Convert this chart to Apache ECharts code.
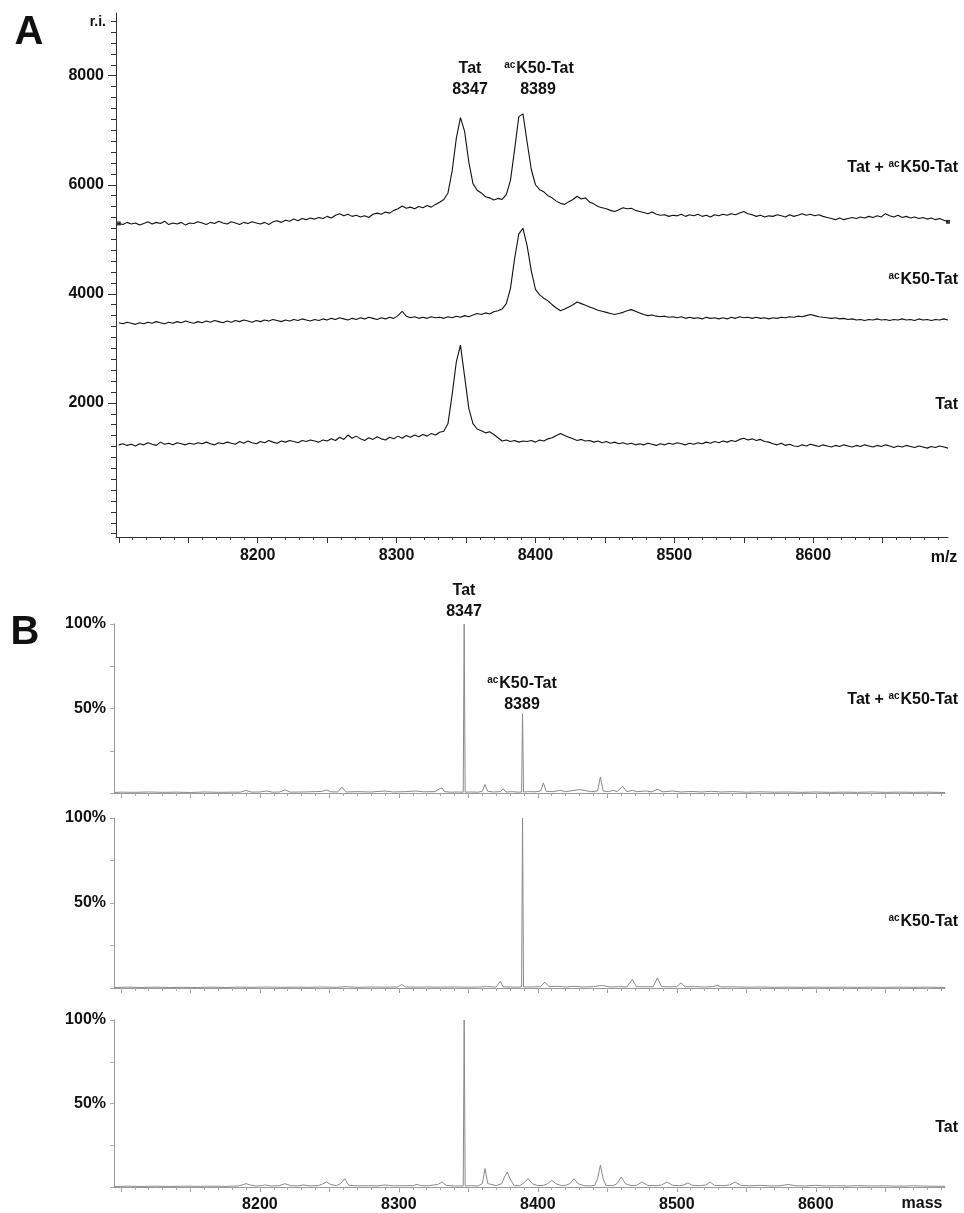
<!DOCTYPE html>
<html><head><meta charset="utf-8">
<script src="https://cdn.jsdelivr.net/npm/echarts/dist/echarts.min.js"></script>
<style>html,body{margin:0;padding:0;background:#fff}#c{width:964px;height:1213px}</style>
</head><body><div id="c"></div>
<script>
// ---------- DATA ----------
// Panel A: MALDI spectra sampled every MZ_STEP from MZ_START (relative intensity, r.i.)
const MZ_START = 8100, MZ_STEP = 3;
const A_MIX = [5290,5270,5310,5280,5300,5260,5290,5320,5280,5310,5290,5330,5270,5300,5280,5310,5260,5300,5290,5320,
5300,5270,5310,5290,5330,5300,5280,5320,5300,5270,5310,5290,5320,5300,5280,5310,5270,5320,5340,5310,
5350,5330,5370,5340,5380,5360,5390,5370,5400,5380,5420,5390,5440,5470,5430,5460,5420,5440,5410,5430,
5400,5460,5480,5460,5500,5480,5530,5560,5610,5570,5590,5560,5600,5580,5620,5590,5640,5680,5730,5850,
6250,6850,7230,6980,6420,6020,5900,5850,5780,5760,5720,5750,5730,5820,6080,6650,7250,7300,6780,6280,
6000,5910,5870,5800,5760,5700,5660,5640,5690,5730,5790,5740,5760,5680,5650,5600,5580,5560,5530,5510,
5540,5580,5560,5570,5530,5510,5490,5470,5500,5460,5440,5450,5420,5440,5430,5460,5420,5450,5430,5460,
5420,5440,5410,5450,5430,5460,5440,5470,5450,5480,5510,5470,5450,5420,5440,5410,5430,5420,5450,5430,
5410,5450,5420,5440,5470,5440,5460,5430,5450,5420,5400,5380,5360,5390,5360,5380,5400,5380,5410,5390,
5420,5400,5430,5410,5470,5430,5410,5440,5400,5420,5390,5410,5380,5400,5370,5390,5360,5380,5350,5320];
const A_ACK = [3470,3450,3480,3460,3440,3470,3450,3480,3460,3490,3470,3450,3480,3460,3490,3470,3500,3480,3460,3490,
3470,3500,3480,3510,3490,3470,3500,3480,3510,3490,3520,3500,3480,3510,3490,3520,3500,3530,3510,3490,
3520,3500,3530,3510,3540,3520,3500,3530,3510,3540,3520,3550,3530,3560,3540,3520,3550,3530,3560,3540,
3570,3550,3530,3560,3540,3570,3550,3600,3680,3590,3560,3580,3550,3570,3550,3580,3560,3570,3550,3580,
3560,3590,3570,3600,3580,3610,3640,3620,3650,3630,3670,3690,3720,3820,4100,4650,5100,5200,4880,4420,
4080,3980,3920,3870,3800,3740,3690,3720,3760,3800,3850,3820,3790,3760,3730,3700,3680,3660,3640,3620,
3640,3660,3690,3710,3680,3650,3620,3600,3610,3590,3580,3590,3570,3580,3560,3580,3550,3570,3550,3560,
3540,3570,3550,3560,3540,3560,3540,3570,3550,3580,3560,3570,3550,3570,3550,3560,3540,3560,3550,3570,
3560,3580,3570,3590,3580,3600,3620,3600,3580,3570,3560,3550,3560,3540,3550,3530,3540,3520,3530,3510,
3530,3520,3540,3520,3530,3510,3530,3520,3540,3520,3530,3510,3540,3520,3530,3510,3530,3520,3540,3520];
const A_TAT = [1230,1250,1220,1240,1210,1250,1230,1270,1240,1220,1280,1240,1260,1230,1270,1250,1230,1260,1240,1270,
1250,1280,1250,1230,1270,1250,1280,1260,1240,1290,1260,1300,1270,1250,1290,1270,1310,1280,1260,1300,
1280,1310,1290,1270,1310,1290,1320,1300,1280,1320,1300,1340,1310,1370,1330,1410,1350,1390,1340,1310,
1360,1330,1380,1340,1320,1370,1340,1390,1350,1400,1370,1410,1380,1420,1390,1440,1410,1460,1480,1620,
2150,2750,3060,2480,1900,1620,1520,1490,1450,1470,1420,1360,1300,1320,1290,1310,1280,1300,1290,1310,
1280,1320,1300,1340,1360,1400,1440,1400,1370,1340,1310,1330,1300,1310,1280,1300,1270,1290,1260,1280,
1250,1270,1240,1260,1230,1250,1230,1260,1240,1220,1250,1230,1260,1240,1270,1250,1230,1260,1240,1270,
1250,1280,1260,1290,1270,1300,1280,1310,1290,1330,1350,1320,1340,1310,1330,1290,1280,1250,1230,1260,
1220,1240,1210,1200,1230,1210,1240,1220,1200,1230,1210,1190,1220,1200,1230,1210,1190,1220,1200,1230,
1210,1190,1220,1200,1230,1210,1180,1210,1190,1220,1200,1180,1210,1190,1170,1200,1180,1210,1190,1170];

// Panel B: deconvoluted mass spectra, [mass, % of base peak]
const B_MIX = [[8095,0.3],[8100,0.5],[8110,0.4],[8120,0.6],[8130,0.4],[8140,0.5],[8150,0.3],[8160,0.6],[8170,0.4],[8180,0.5],
[8186,0.5],[8190,1.5],[8194,0.5],[8200,0.6],[8205,1.2],[8209,0.5],[8214,0.6],[8218,1.8],[8222,0.5],[8230,0.6],
[8240,0.8],[8245,1.0],[8248,1.8],[8251,0.7],[8256,0.6],[8259,3.5],[8262,0.6],[8270,0.8],[8280,0.6],[8290,1.2],
[8296,0.6],[8305,0.8],[8312,1.2],[8318,0.7],[8326,0.8],[8329,2.5],[8331,3.0],[8333,0.8],[8337,0.5],[8342,0.6],
[8346.3,0.5],[8347,100],[8347.7,0.5],[8352,0.6],[8357,0.5],[8360,1.0],[8362,5.0],[8364,1.0],[8368,0.6],[8373,0.8],
[8375,2.5],[8377,0.6],[8382,0.8],[8386,0.5],[8388.3,0.6],[8389,47],[8389.7,0.6],[8394,0.8],[8398,0.7],[8402,1.2],
[8404,6],[8406,1.0],[8411,0.8],[8416,1.6],[8420,0.8],[8426,1.5],[8430,2],[8434,1.5],[8438,0.8],[8443,1.2],
[8445,9.5],[8447,1.2],[8451,0.8],[8454,1.6],[8457,0.8],[8461,4],[8464,0.8],[8468,1.5],[8472,0.8],[8478,1.2],
[8482,0.7],[8486,2.2],[8490,0.7],[8497,1.2],[8503,0.6],[8510,0.9],[8518,0.6],[8525,1.0],[8532,0.6],[8540,0.8],
[8550,0.5],[8560,0.7],[8570,0.5],[8580,0.6],[8590,0.4],[8600,0.6],[8610,0.4],[8620,0.5],[8630,0.4],[8640,0.6],
[8650,0.4],[8660,0.5],[8670,0.4],[8680,0.5],[8693,0.3]];
const B_ACK = [[8095,0.3],[8105,0.5],[8115,0.3],[8125,0.5],[8135,0.3],[8145,0.4],[8155,0.3],[8165,0.5],[8175,0.3],[8185,0.5],
[8195,0.4],[8205,0.6],[8215,0.4],[8225,0.5],[8235,0.4],[8245,0.6],[8255,0.4],[8262,0.8],[8270,0.4],[8280,0.6],
[8290,0.5],[8299,0.6],[8302,2.0],[8305,0.6],[8312,0.5],[8320,0.6],[8330,0.5],[8340,0.6],[8350,0.5],[8358,0.6],
[8363,0.8],[8370,0.6],[8373,4.0],[8375,0.6],[8380,0.6],[8385,0.5],[8388.3,0.6],[8389,100],[8389.7,0.6],[8395,0.6],
[8402,0.8],[8405,3.5],[8408,0.8],[8414,1.0],[8420,0.6],[8426,1.0],[8432,0.6],[8440,0.8],[8446,1.5],[8452,0.6],
[8458,0.8],[8464,0.6],[8468,5.0],[8471,0.8],[8477,0.7],[8483,0.8],[8486,6.0],[8489,0.8],[8495,0.7],[8500,0.8],
[8503,3.0],[8506,0.7],[8513,0.8],[8520,0.6],[8526,0.8],[8529,1.6],[8532,0.6],[8540,0.7],[8550,0.5],[8560,0.6],
[8570,0.4],[8580,0.5],[8590,0.4],[8600,0.5],[8610,0.4],[8620,0.5],[8630,0.4],[8640,0.5],[8650,0.4],[8660,0.5],
[8670,0.4],[8680,0.5],[8693,0.3]];
const B_TAT = [[8095,0.3],[8105,0.5],[8115,0.3],[8125,0.5],[8135,0.3],[8145,0.5],[8155,0.4],[8165,0.5],[8175,0.4],[8184,0.6],
[8187,1.2],[8190,2.0],[8193,1.2],[8197,0.6],[8201,0.8],[8204,1.2],[8208,0.6],[8214,0.8],[8218,2.0],[8222,0.8],
[8227,0.7],[8231,1.2],[8236,0.7],[8242,0.8],[8245,1.8],[8248,3.0],[8251,1.5],[8255,0.8],[8258,2.0],[8261,5.0],
[8264,1.0],[8270,0.7],[8278,0.8],[8285,0.7],[8290,1.2],[8296,0.7],[8303,0.8],[8310,0.8],[8313,1.5],[8316,0.8],
[8321,0.7],[8325,1.2],[8328,1.5],[8331,3.0],[8334,1.0],[8339,0.6],[8343,0.6],[8346.3,0.6],[8347,100],[8347.7,0.6],
[8352,0.8],[8357,0.6],[8360,2.0],[8362,11],[8364,2.0],[8367,1.5],[8370,0.8],[8374,2.0],[8376,6],[8378,9],
[8380,5],[8383,0.8],[8387,0.8],[8390,2.5],[8393,5],[8396,2.0],[8400,0.8],[8404,1.0],[8407,2.0],[8410,4],
[8413,2.0],[8417,0.8],[8420,1.0],[8423,2.0],[8426,5],[8429,2.0],[8433,0.8],[8438,0.7],[8441,1.0],[8443,5],
[8445,13],[8447,5],[8449,1.0],[8454,0.8],[8457,2.0],[8460,6],[8463,2.0],[8467,0.8],[8471,1.0],[8475,3.0],
[8479,1.0],[8485,0.8],[8489,1.2],[8493,3.0],[8497,1.0],[8502,0.8],[8505,1.2],[8508,2.5],[8511,1.0],[8517,0.8],
[8521,1.2],[8524,3.0],[8527,1.0],[8533,0.8],[8538,1.2],[8542,3.0],[8546,1.0],[8552,0.7],[8560,1.0],[8568,0.6],
[8575,0.8],[8580,1.5],[8585,0.8],[8592,0.6],[8600,1.0],[8608,0.6],[8615,0.8],[8622,0.6],[8630,0.8],[8640,0.6],
[8650,0.7],[8660,0.5],[8670,0.7],[8680,0.5],[8693,0.4]];

// Tick labels
const A_X_LABELS = [8200, 8300, 8400, 8500, 8600];
const A_Y_LABELS = [2000, 4000, 6000, 8000];
const B_X_LABELS = [8200, 8300, 8400, 8500, 8600];
const B_Y_LABELS = [50, 100];
// Text
const PEAK_NAMES = ['{b|Tat}', '{s|ac}{b|K50-Tat}'];
const PEAK_MASSES = ['8347', '8389'];
const TRACE_LABELS = ['{b|Tat + }{s|ac}{b|K50-Tat}', '{s|ac}{b|K50-Tat}', '{b|Tat}'];

// ---------- CHART ----------
const FONT = '"Liberation Sans", Arial, Helvetica, sans-serif';
const INK = '#111';
function range(a, b, s) { const r = []; for (let v = a; v <= b + 1e-9; v += s) r.push(v); return r; }
const toPairs = vals => vals.map((v, i) => [MZ_START + MZ_STEP * i, v]);
const plain = v => String(v);

const A_X = {min: 8098, max: 8697};
const A_Y = {min: -460, max: 9150};
const B_X = {min: 8095, max: 8693};

const grids = [
  {left: 116, top: 13, width: 832, height: 524},
  {left: 114, top: 624, width: 831, height: 169},
  {left: 114, top: 818, width: 831, height: 170},
  {left: 114, top: 1020, width: 831, height: 170}
];

const lblStyle = {fontFamily: FONT, fontWeight: 'bold', fontSize: 16, color: INK};
const xAxes = [
  {gridIndex: 0, type: 'value', min: A_X.min, max: A_X.max, position: 'bottom',
   axisLine: {show: true, onZero: false, lineStyle: {color: '#333', width: 1}},
   axisTick: {show: true, customValues: range(8100, 8650, 50), length: 6, lineStyle: {color: '#333'}},
   axisLabel: Object.assign({customValues: A_X_LABELS, margin: 11, formatter: plain}, lblStyle),
   splitLine: {show: false}},
  {gridIndex: 0, type: 'value', min: A_X.min, max: A_X.max, position: 'bottom',
   axisLine: {show: false, onZero: false},
   axisTick: {show: true, customValues: range(8100, 8690, 10), length: 3, lineStyle: {color: '#333'}},
   axisLabel: {show: false}, splitLine: {show: false}}
];
const yAxes = [
  {gridIndex: 0, type: 'value', min: A_Y.min, max: A_Y.max,
   axisLine: {show: true, lineStyle: {color: '#333', width: 1}},
   axisTick: {show: true, customValues: A_Y_LABELS, length: 8, lineStyle: {color: '#333'}},
   axisLabel: Object.assign({customValues: A_Y_LABELS, margin: 12, formatter: plain}, lblStyle),
   splitLine: {show: false}},
  {gridIndex: 0, type: 'value', min: A_Y.min, max: A_Y.max, position: 'left',
   axisLine: {show: false},
   axisTick: {show: true, customValues: range(-400, 9000, 200), length: 5, lineStyle: {color: '#333'}},
   axisLabel: {show: false}, splitLine: {show: false}}
];
for (let k = 0; k < 3; k++) {
  const g = k + 1;
  xAxes.push({gridIndex: g, type: 'value', min: B_X.min, max: B_X.max, position: 'bottom',
    axisLine: {show: true, onZero: false, lineStyle: {color: '#999', width: 1}},
    axisTick: {show: true, customValues: range(8100, 8650, 50), length: 5, lineStyle: {color: '#999'}},
    axisLabel: k === 2 ? Object.assign({customValues: B_X_LABELS, margin: 10, formatter: plain}, lblStyle) : {show: false},
    splitLine: {show: false}});
  xAxes.push({gridIndex: g, type: 'value', min: B_X.min, max: B_X.max, position: 'bottom',
    axisLine: {show: false, onZero: false},
    axisTick: {show: true, customValues: range(8100, 8690, 10), length: 3, lineStyle: {color: '#aaa'}},
    axisLabel: {show: false}, splitLine: {show: false}});
  yAxes.push({gridIndex: g, type: 'value', min: 0, max: 100,
    axisLine: {show: true, lineStyle: {color: '#999', width: 1}},
    axisTick: {show: true, customValues: [0, 25, 50, 75, 100], length: 4, lineStyle: {color: '#aaa'}},
    axisLabel: Object.assign({customValues: B_Y_LABELS, margin: 8, formatter: v => v + '%'}, lblStyle),
    splitLine: {show: false}});
}

const lineA = (data) => ({type: 'line', xAxisIndex: 0, yAxisIndex: 0, data: toPairs(data), showSymbol: false, symbol: 'none',
  lineStyle: {color: '#111', width: 1.1}, silent: true});
const lineB = (data, k) => ({type: 'line', xAxisIndex: 2 + 2 * k, yAxisIndex: 2 + k, data: data, showSymbol: false, symbol: 'none',
  lineStyle: {color: '#8a8a8a', width: 1}, silent: true});
const mixPairs = toPairs(A_MIX);

const series = [
  lineA(A_MIX), lineA(A_ACK), lineA(A_TAT),
  {type: 'scatter', xAxisIndex: 0, yAxisIndex: 0, data: [mixPairs[0], mixPairs[mixPairs.length - 1]],
   symbol: 'rect', symbolSize: 4, itemStyle: {color: '#111'}, silent: true},
  lineB(B_MIX, 0), lineB(B_ACK, 1), lineB(B_TAT, 2)
];

const RICH = {
  b: {fontFamily: FONT, fontWeight: 'bold', fontSize: 16, fill: INK, lineHeight: 18},
  s: {fontFamily: FONT, fontWeight: 'bold', fontSize: 10, fill: INK, verticalAlign: 'top', lineHeight: 18, padding: [0, 1, 6, 0]}
};
function txt(x, y, text, opt) {
  return {type: 'text', x: x, y: y, silent: true, z: 100,
    style: Object.assign({text: text, fill: INK, fontFamily: FONT, fontWeight: 'bold', fontSize: 16,
      align: 'center', verticalAlign: 'middle', rich: RICH}, opt || {})};
}
const graphic = [
  txt(29, 33, 'A', {fontSize: 40}),
  txt(25, 633, 'B', {fontSize: 40}),
  txt(106, 22, 'r.i.', {fontSize: 14, align: 'right'}),
  txt(944, 558, 'm/z'),
  txt(922, 1204, 'mass'),
  // panel A peak labels
  txt(470, 69, PEAK_NAMES[0]), txt(470, 90, PEAK_MASSES[0]),
  txt(539, 69, PEAK_NAMES[1]), txt(538, 90, PEAK_MASSES[1]),
  // panel B peak labels
  txt(464, 591, PEAK_NAMES[0]), txt(464, 612, PEAK_MASSES[0]),
  txt(522, 684, PEAK_NAMES[1]), txt(522, 705, PEAK_MASSES[1]),
  // trace labels
  txt(958, 168, TRACE_LABELS[0], {align: 'right'}),
  txt(958, 280, TRACE_LABELS[1], {align: 'right'}),
  txt(958, 405, TRACE_LABELS[2], {align: 'right'}),
  txt(958, 700, TRACE_LABELS[0], {align: 'right'}),
  txt(958, 922, TRACE_LABELS[1], {align: 'right'}),
  txt(958, 1128, TRACE_LABELS[2], {align: 'right'})
];

const chart = echarts.init(document.getElementById('c'), null, {renderer: 'canvas'});
chart.setOption({
  animation: false,
  backgroundColor: '#fff',
  grid: grids,
  xAxis: xAxes,
  yAxis: yAxes,
  series: series,
  graphic: graphic
});
</script>
</body></html>
